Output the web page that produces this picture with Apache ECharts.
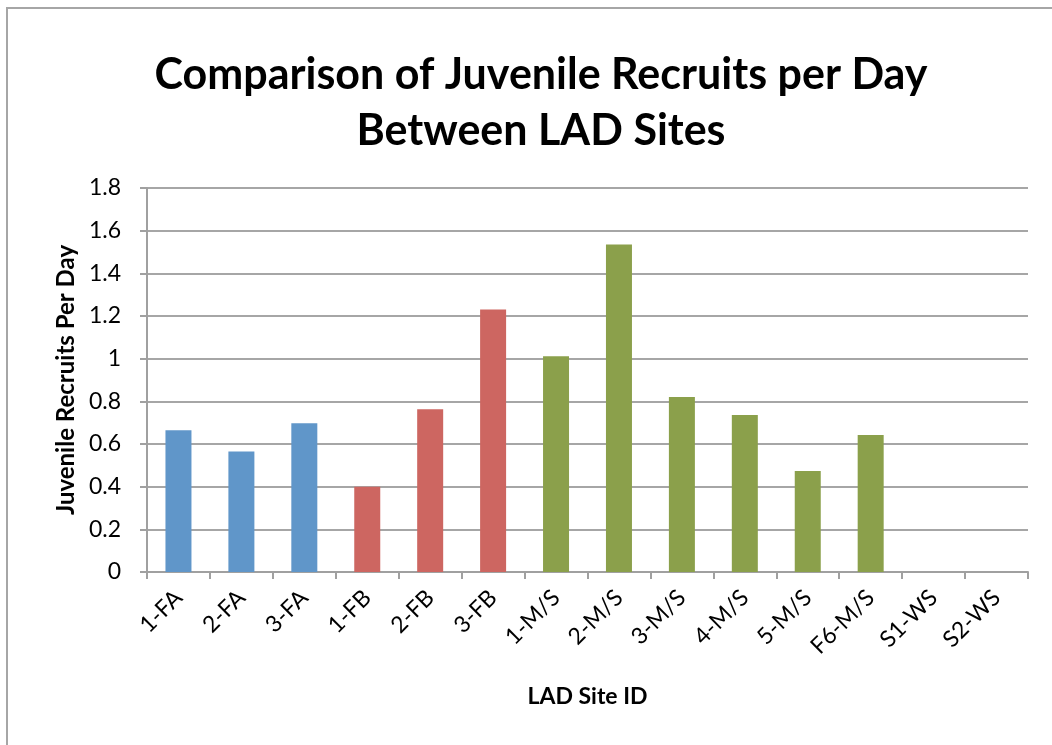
<!DOCTYPE html>
<html>
<head>
<meta charset="utf-8">
<script src="https://cdn.jsdelivr.net/npm/echarts@6/dist/echarts.min.js"></script>
<style>
html,body{margin:0;padding:0;background:#fff;}
#chart{width:1052px;height:745px;}
</style>
</head>
<body>
<div id="chart"></div>
<script>
const categories = ['1-FA','2-FA','3-FA','1-FB','2-FB','3-FB','1-M/S','2-M/S','3-M/S','4-M/S','5-M/S','F6-M/S','S1-WS','S2-WS'];
const values = [0.665, 0.565, 0.697, 0.40, 0.763, 1.231, 1.011, 1.535, 0.82, 0.736, 0.474, 0.642, 0, 0];
const groups = ['FA','FA','FA','FB','FB','FB','MS','MS','MS','MS','MS','MS','WS','WS'];
const groupColors = { FA: '#6096C9', FB: '#CD6661', MS: '#8BA04B', WS: '#8BA04B' };
const yTicks = [0, 0.2, 0.4, 0.6, 0.8, 1, 1.2, 1.4, 1.6, 1.8];

const chart = echarts.init(document.getElementById('chart'));
const font = 'Lato, "Open Sans", sans-serif';
chart.setOption({
  animation: false,
  backgroundColor: '#fff',
  graphic: [{
    type: 'rect',
    shape: { x: 7, y: 8, width: 1100, height: 800 },
    style: { fill: 'none', stroke: '#a6a6a6', lineWidth: 2 },
    silent: true
  }],
  title: {
    text: 'Comparison of Juvenile Recruits per Day\nBetween LAD Sites',
    left: 536, top: 42, textAlign: 'center',
    textStyle: { fontFamily: font, fontWeight: 'bold', fontSize: 43, lineHeight: 56, color: '#000' }
  },
  grid: { left: 147, right: 24, top: 188, bottom: 173, containLabel: false },
  xAxis: {
    type: 'category',
    data: categories,
    name: 'LAD Site ID',
    nameLocation: 'middle',
    nameGap: 113,
    nameTextStyle: { fontFamily: font, fontWeight: 'bold', fontSize: 23, color: '#000' },
    axisLine: { lineStyle: { color: '#a0a0a0', width: 2 } },
    axisTick: { show: true, length: 7, alignWithLabel: false, lineStyle: { color: '#a0a0a0', width: 2 } },
    axisLabel: { rotate: 45, margin: 22, fontFamily: font, fontSize: 23, color: '#000', interval: 0 }
  },
  yAxis: {
    type: 'value',
    min: 0, max: 1.8, interval: 0.2,
    name: 'Juvenile Recruits Per Day',
    nameLocation: 'middle',
    nameGap: 69,
    nameRotate: 90,
    nameTextStyle: { fontFamily: font, fontWeight: 'bold', fontSize: 24, color: '#000' },
    axisLine: { show: true, lineStyle: { color: '#a0a0a0', width: 2 } },
    axisTick: { show: true, length: 7, lineStyle: { color: '#a0a0a0', width: 2 } },
    splitLine: { show: true, lineStyle: { color: '#a6a6a6', width: 2 } },
    axisLabel: {
      margin: 26, fontFamily: font, fontSize: 23, color: '#000',
      formatter: v => { const t = yTicks.find(x => Math.abs(x - v) < 1e-6); return t === undefined ? '' : String(t); }
    }
  },
  series: [{
    type: 'bar',
    barWidth: 26,
    data: values.map((v, i) => ({ value: v, itemStyle: { color: groupColors[groups[i]] } }))
  }]
});
</script>
</body>
</html>
